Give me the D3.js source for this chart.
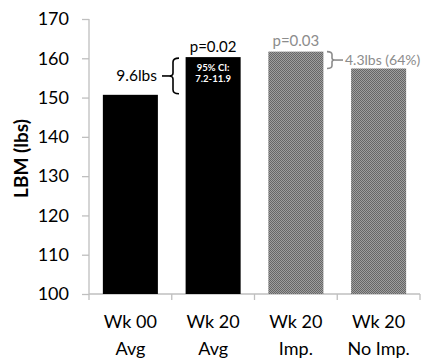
<!DOCTYPE html>
<html>
<head>
<meta charset="utf-8">
<script src="https://cdn.jsdelivr.net/npm/d3@7"></script>
<style>
  html, body { margin: 0; padding: 0; background: #fff; }
  svg { display: block; font-family: Lato, "Open Sans", sans-serif; }
</style>
</head>
<body>
<svg id="chart" width="426" height="358"></svg>
<script>
const categories = ["Wk 00|Avg", "Wk 20|Avg", "Wk 20|Imp.", "Wk 20|No Imp."];
const values = [150.7, 160.3, 161.7, 157.4];
const fills = ["solid", "solid", "pattern", "pattern"];
const yTicks = [100, 110, 120, 130, 140, 150, 160, 170];
const yLabel = "LBM (lbs)";
const diffLabel1 = "9.6lbs";
const pLabel1 = "p=0.02";
const ciLines = ["95% CI:", "7.2-11.9"];
const pLabel2 = "p=0.03";
const diffLabel2 = "4.3lbs (64%)";

(function () {
const svg = d3.select("#chart");
const mLeft = 89, mRight = 420, mTop = 19, mBottom = 294;

const y = d3.scaleLinear().domain([100, 170]).range([mBottom, mTop]);
const x = d3.scaleBand().domain(categories).range([mLeft, mRight])
  .paddingInner(0.335).paddingOuter(0.1675);

const defs = svg.append("defs");
const pat = defs.append("pattern").attr("id", "checker")
  .attr("width", 2).attr("height", 2).attr("patternUnits", "userSpaceOnUse");
pat.append("rect").attr("width", 2).attr("height", 2).attr("fill", "#9e9e9e");
pat.append("rect").attr("width", 1).attr("height", 1).attr("fill", "#666");
pat.append("rect").attr("x", 1).attr("y", 1).attr("width", 1).attr("height", 1).attr("fill", "#666");

// Y axis
const yAxis = svg.append("g").attr("transform", `translate(${mLeft},0)`)
  .call(d3.axisLeft(y).tickValues(yTicks).tickSize(7).tickPadding(13).tickFormat(d3.format("d")));
yAxis.select(".domain").attr("stroke", "#bfbfbf").attr("stroke-width", 1.3)
  .attr("d", `M0,${mTop}H0V${mBottom}`);
yAxis.selectAll(".tick line").attr("stroke", "#bfbfbf").attr("stroke-width", 1.3);
yAxis.selectAll(".tick text").attr("font-size", 18).attr("fill", "#000")
  .attr("font-family", "Lato, sans-serif");

// X axis line and ticks at band boundaries
const step = x.step();
const boundaries = d3.range(categories.length + 1).map(i => mLeft + i * step);
const xg = svg.append("g");
xg.append("line").attr("x1", mLeft).attr("x2", mRight).attr("y1", mBottom).attr("y2", mBottom)
  .attr("stroke", "#bfbfbf").attr("stroke-width", 1.3);
xg.selectAll("line.xt").data(boundaries).join("line").attr("class", "xt")
  .attr("x1", d => d).attr("x2", d => d).attr("y1", mBottom).attr("y2", mBottom + 6)
  .attr("stroke", "#bfbfbf").attr("stroke-width", 1.3);

// Category labels
const cl = svg.append("g").selectAll("text").data(categories).join("text")
  .attr("x", d => x(d) + x.bandwidth() / 2)
  .attr("text-anchor", "middle").attr("font-size", 18).attr("fill", "#000");
cl.each(function(d) {
  const parts = d.split("|");
  d3.select(this).selectAll("tspan").data(parts).join("tspan")
    .attr("x", x(d) + x.bandwidth() / 2)
    .attr("y", (p, i) => 328 + i * 27)
    .text(p => p);
});

// Bars
svg.append("g").selectAll("rect").data(categories).join("rect")
  .attr("x", d => x(d))
  .attr("width", x.bandwidth())
  .attr("y", (d, i) => y(values[i]))
  .attr("height", (d, i) => y(100) - y(values[i]))
  .attr("fill", (d, i) => fills[i] === "solid" ? "#000" : "url(#checker)");

// Y label
svg.append("text")
  .attr("transform", `translate(28,${(mTop + mBottom) / 2 + 2}) rotate(-90)`)
  .attr("text-anchor", "middle").attr("font-size", 19).attr("font-weight", "bold")
  .attr("fill", "#000").text(yLabel);

// Annotation 1: brace between bar1 and bar2 tops
const b1 = categories[1];
const cx2 = x(b1) + x.bandwidth() / 2;
const yA = y(values[1]), yB = y(values[0]);
const yM = (yA + yB) / 2;
const bx = 173;
function bracePath(xv, y0, y1, tip, curl) {
  const m = (y0 + y1) / 2;
  return `M${xv + curl},${y0} Q${xv},${y0} ${xv},${y0 + 4} L${xv},${m - 3} Q${xv},${m} ${xv - tip},${m} Q${xv},${m} ${xv},${m + 3} L${xv},${y1 - 4} Q${xv},${y1} ${xv + curl},${y1}`;
}
svg.append("path").attr("d", bracePath(bx, yA + 1, yB - 1, 4, 6))
  .attr("fill", "none").attr("stroke", "#000").attr("stroke-width", 1.6);
svg.append("line").attr("x1", 162).attr("x2", bx - 4).attr("y1", yM).attr("y2", yM)
  .attr("stroke", "#000").attr("stroke-width", 1.6);
svg.append("text").attr("x", 157).attr("y", yM + 5).attr("text-anchor", "end")
  .attr("font-size", 15.5).attr("fill", "#000").text(diffLabel1);

svg.append("text").attr("x", cx2).attr("y", yA - 5).attr("text-anchor", "middle")
  .attr("font-size", 15).attr("fill", "#000").text(pLabel1);
svg.selectAll("text.ci").data(ciLines).join("text").attr("class", "ci")
  .attr("x", cx2).attr("y", (d, i) => yA + 14 + i * 10.5)
  .attr("text-anchor", "middle").attr("font-size", 9.5).attr("font-weight", "bold")
  .attr("fill", "#fff").text(d => d);

// Annotation 2: gray brace between bar3 and bar4 tops
const b3 = categories[2];
const cx3 = x(b3) + x.bandwidth() / 2;
const yC = y(values[2]), yD = y(values[3]);
const yM2 = (yC + yD) / 2;
const bx2 = 332;
svg.append("path").attr("d", `M${bx2 - 5},${yC} Q${bx2},${yC} ${bx2},${yC + 3} L${bx2},${yM2 - 2} Q${bx2},${yM2} ${bx2 + 3},${yM2} Q${bx2},${yM2} ${bx2},${yM2 + 2} L${bx2},${yD - 3} Q${bx2},${yD} ${bx2 - 5},${yD}`)
  .attr("fill", "none").attr("stroke", "#8c8c8c").attr("stroke-width", 1.6);
svg.append("line").attr("x1", bx2 + 3).attr("x2", 343).attr("y1", yM2).attr("y2", yM2)
  .attr("stroke", "#8c8c8c").attr("stroke-width", 1.6);
svg.append("text").attr("x", 345).attr("y", yM2 + 5).attr("text-anchor", "start")
  .attr("font-size", 14).attr("fill", "#8c8c8c").text(diffLabel2);
svg.append("text").attr("x", cx3).attr("y", yC - 6).attr("text-anchor", "middle")
  .attr("font-size", 15).attr("fill", "#8c8c8c").text(pLabel2);
})();
</script>
</body>
</html>
